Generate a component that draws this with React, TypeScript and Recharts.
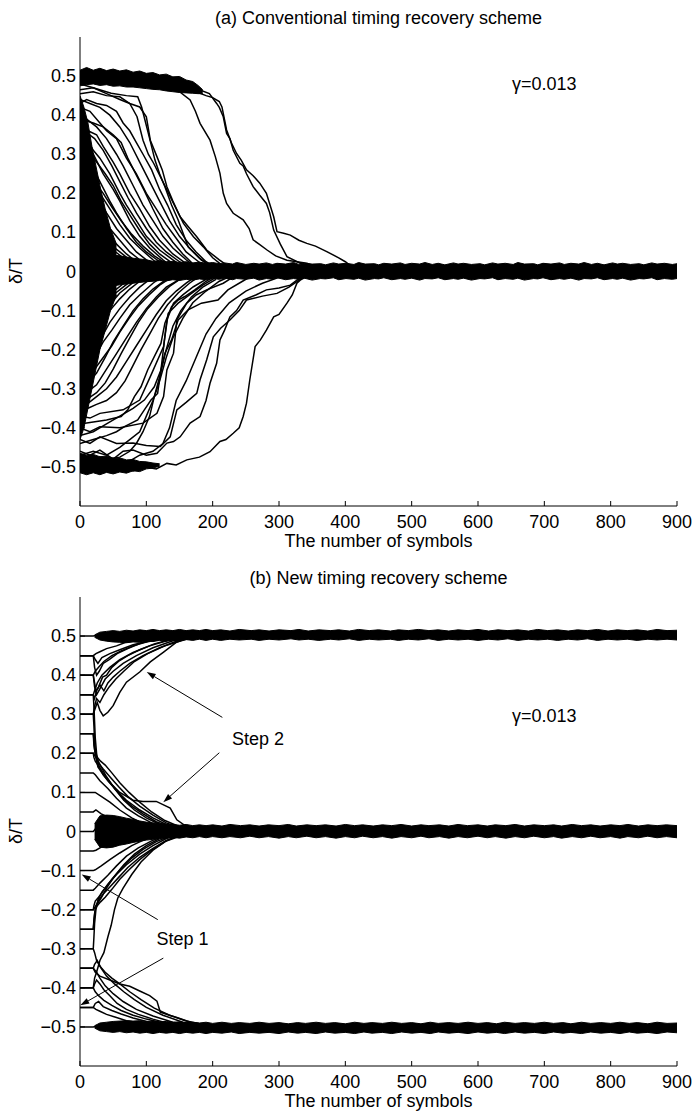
import React from 'react';
import { ComposedChart, Line, Area, XAxis, YAxis, ReferenceLine } from 'recharts';

type Pt = [number, number];
type Band = [number, number, number];

const xTicks = [0, 100, 200, 300, 400, 500, 600, 700, 800, 900];
const yTicks = [-0.5, -0.4, -0.3, -0.2, -0.1, 0, 0.1, 0.2, 0.3, 0.4, 0.5];

// (a) conventional scheme: runs that start above zero
const topUpperRuns: Pt[][] = [
  [[0, 0.5], [15, 0.51], [30, 0.49], [50, 0.505], [70, 0.5], [90, 0.495], [110, 0.49], [130, 0.485], [150, 0.48], [165, 0.47], [180, 0.465], [195, 0.455], [206, 0.43], [210, 0.42], [216, 0.396], [221, 0.353], [226, 0.34], [231, 0.31], [241, 0.277], [246, 0.27], [251, 0.25], [261, 0.217], [271, 0.195], [281, 0.174], [286, 0.15], [292, 0.106], [302, 0.07], [312, 0.038], [332, 0.021], [350, 0.01]],
  [[0, 0.49], [20, 0.5], [40, 0.51], [60, 0.495], [80, 0.5], [100, 0.49], [120, 0.485], [140, 0.475], [160, 0.47], [175, 0.46], [190, 0.45], [200, 0.445], [210, 0.435], [214, 0.421], [221, 0.362], [228, 0.33], [236, 0.302], [243, 0.285], [251, 0.26], [261, 0.245], [271, 0.226], [281, 0.2], [292, 0.14], [297, 0.102], [307, 0.098], [317, 0.093], [330, 0.08], [342, 0.072], [355, 0.065], [372, 0.051], [390, 0.035], [400, 0.025], [410, 0.012]],
  [[0, 0.505], [20, 0.495], [45, 0.5], [70, 0.49], [100, 0.48], [130, 0.47], [150, 0.46], [166, 0.439], [174, 0.41], [181, 0.379], [196, 0.336], [204, 0.294], [211, 0.251], [216, 0.2], [221, 0.174], [231, 0.149], [246, 0.132], [255, 0.11], [261, 0.081], [270, 0.07], [282, 0.055], [295, 0.04], [312, 0.029], [342, 0.021], [360, 0.01]],
  [[0, 0.465], [20, 0.47], [47, 0.456], [70, 0.45], [87, 0.447], [93, 0.42], [98, 0.387], [105, 0.34], [113, 0.285], [120, 0.25], [128, 0.217], [138, 0.17], [148, 0.132], [155, 0.1], [163, 0.063], [183, 0.029], [200, 0.012]],
  [[0, 0.48], [20, 0.47], [40, 0.455], [60, 0.44], [75, 0.43], [90, 0.421], [100, 0.396], [106, 0.336], [116, 0.294], [124, 0.26], [131, 0.217], [140, 0.18], [151, 0.14], [163, 0.115], [176, 0.089], [191, 0.055], [210, 0.03], [225, 0.012]],
  [[0, 0.455], [20, 0.46], [40, 0.45], [60, 0.447], [75, 0.43], [86, 0.396], [95, 0.336], [103, 0.3], [111, 0.277], [126, 0.226], [141, 0.174], [156, 0.123], [171, 0.089], [186, 0.063], [200, 0.035], [215, 0.015]],
  [[0, 0.44], [15, 0.43], [30, 0.42], [45, 0.4], [60, 0.37], [75, 0.33], [90, 0.28], [105, 0.23], [120, 0.18], [135, 0.13], [150, 0.09], [165, 0.06], [180, 0.035], [195, 0.015]],
  [[0, 0.43], [10, 0.44], [25, 0.43], [40, 0.425], [55, 0.41], [65, 0.38], [75, 0.36], [85, 0.33], [95, 0.3], [108, 0.26], [120, 0.21], [132, 0.17], [145, 0.12], [160, 0.08], [175, 0.05], [190, 0.025], [205, 0.01]],
  [[0, 0.42], [15, 0.41], [30, 0.38], [40, 0.36], [55, 0.34], [70, 0.29], [85, 0.25], [100, 0.2], [115, 0.16], [130, 0.12], [145, 0.085], [160, 0.05], [175, 0.03], [190, 0.01]],
  [[0, 0.4], [10, 0.39], [25, 0.37], [40, 0.34], [55, 0.3], [65, 0.27], [80, 0.22], [95, 0.17], [110, 0.13], [125, 0.09], [140, 0.06], [160, 0.03], [175, 0.01]],
  [[0, 0.39], [10, 0.385], [20, 0.38], [35, 0.37], [50, 0.35], [62, 0.33], [72, 0.29], [84, 0.25], [96, 0.21], [110, 0.16], [125, 0.11], [140, 0.075], [155, 0.045], [170, 0.02]],
  [[0, 0.38], [12, 0.36], [25, 0.35], [35, 0.32], [50, 0.28], [60, 0.25], [75, 0.2], [90, 0.16], [105, 0.115], [120, 0.08], [140, 0.045], [160, 0.02]],
  [[0, 0.36], [10, 0.355], [22, 0.34], [35, 0.31], [48, 0.27], [60, 0.23], [72, 0.19], [85, 0.15], [100, 0.11], [115, 0.075], [130, 0.05], [150, 0.025], [165, 0.01]],
  [[0, 0.35], [10, 0.34], [20, 0.31], [30, 0.29], [45, 0.25], [60, 0.2], [70, 0.17], [85, 0.13], [100, 0.09], [120, 0.055], [140, 0.03], [155, 0.012]],
  [[0, 0.33], [10, 0.32], [20, 0.3], [35, 0.25], [50, 0.21], [60, 0.18], [75, 0.13], [90, 0.09], [105, 0.06], [125, 0.03], [140, 0.01]],
  [[0, 0.31], [12, 0.305], [25, 0.28], [38, 0.25], [50, 0.22], [62, 0.18], [75, 0.145], [90, 0.105], [105, 0.07], [120, 0.045], [140, 0.02]],
  [[0, 0.3], [8, 0.29], [18, 0.27], [30, 0.23], [45, 0.18], [55, 0.15], [70, 0.11], [85, 0.075], [100, 0.05], [120, 0.025], [135, 0.01]],
  [[0, 0.28], [10, 0.26], [20, 0.24], [30, 0.2], [45, 0.16], [60, 0.12], [75, 0.085], [90, 0.06], [110, 0.03], [125, 0.01]],
  [[0, 0.26], [10, 0.255], [22, 0.23], [35, 0.2], [48, 0.165], [62, 0.13], [78, 0.095], [95, 0.065], [112, 0.04], [130, 0.02]],
  [[0, 0.25], [10, 0.235], [20, 0.21], [30, 0.18], [40, 0.15], [55, 0.11], [70, 0.08], [85, 0.05], [100, 0.03], [115, 0.012]],
  [[0, 0.22], [10, 0.2], [20, 0.18], [30, 0.15], [45, 0.11], [60, 0.08], [75, 0.05], [90, 0.03], [105, 0.01]],
  [[0, 0.2], [8, 0.19], [18, 0.16], [28, 0.14], [40, 0.1], [55, 0.07], [70, 0.045], [85, 0.025], [100, 0.01]],
  [[0, 0.17], [10, 0.15], [20, 0.13], [30, 0.1], [45, 0.07], [60, 0.05], [75, 0.03], [90, 0.012]],
  [[0, 0.15], [10, 0.13], [20, 0.11], [35, 0.08], [50, 0.055], [65, 0.035], [80, 0.02]],
  [[0, 0.12], [10, 0.11], [20, 0.09], [35, 0.06], [50, 0.04], [65, 0.025], [80, 0.01]],
  [[0, 0.1], [12, 0.085], [25, 0.065], [40, 0.045], [55, 0.03], [70, 0.015]],
  [[0, 0.07], [12, 0.06], [25, 0.045], [40, 0.03], [55, 0.018]],
  [[0, 0.05], [15, 0.04], [30, 0.03], [45, 0.02]],
];

// (a) conventional scheme: runs that start below zero
const topLowerRuns: Pt[][] = [
  [[0, -0.48], [15, -0.5], [30, -0.474], [45, -0.505], [60, -0.499], [80, -0.51], [95, -0.499], [115, -0.505], [131, -0.491], [145, -0.495], [161, -0.482], [180, -0.475], [196, -0.461], [211, -0.435], [220, -0.43], [231, -0.414], [240, -0.4], [246, -0.371], [251, -0.337], [256, -0.277], [264, -0.192], [272, -0.175], [281, -0.15], [292, -0.116], [300, -0.11], [312, -0.081], [320, -0.06], [327, -0.03], [332, -0.022], [345, -0.01]],
  [[0, -0.46], [15, -0.47], [30, -0.457], [50, -0.48], [65, -0.46], [80, -0.457], [100, -0.47], [116, -0.465], [131, -0.439], [141, -0.435], [151, -0.423], [166, -0.388], [181, -0.371], [190, -0.33], [196, -0.286], [206, -0.235], [211, -0.175], [218, -0.15], [226, -0.116], [236, -0.1], [246, -0.073], [265, -0.06], [281, -0.047], [300, -0.042], [317, -0.035], [327, -0.022], [340, -0.01]],
  [[0, -0.43], [15, -0.44], [30, -0.423], [55, -0.44], [80, -0.439], [100, -0.445], [121, -0.448], [136, -0.423], [146, -0.354], [160, -0.335], [176, -0.312], [181, -0.277], [191, -0.226], [201, -0.167], [212, -0.145], [226, -0.124], [240, -0.1], [251, -0.073], [275, -0.063], [297, -0.056], [315, -0.04], [327, -0.026], [340, -0.01]],
  [[0, -0.4], [15, -0.41], [30, -0.397], [60, -0.4], [95, -0.388], [116, -0.363], [126, -0.32], [131, -0.252], [141, -0.209], [146, -0.124], [161, -0.081], [175, -0.06], [191, -0.047], [216, -0.03], [230, -0.015]],
  [[0, -0.37], [15, -0.375], [30, -0.363], [65, -0.354], [90, -0.329], [106, -0.269], [126, -0.192], [131, -0.124], [141, -0.081], [155, -0.06], [171, -0.039], [190, -0.02]],
  [[0, -0.39], [20, -0.385], [40, -0.38], [62, -0.371], [72, -0.354], [82, -0.32], [92, -0.295], [102, -0.252], [112, -0.218], [122, -0.184], [128, -0.132], [138, -0.09], [148, -0.073], [158, -0.064], [173, -0.047], [190, -0.025], [205, -0.01]],
  [[0, -0.42], [20, -0.41], [40, -0.39], [60, -0.37], [80, -0.35], [97, -0.329], [112, -0.295], [122, -0.252], [128, -0.209], [138, -0.175], [148, -0.124], [163, -0.098], [183, -0.081], [208, -0.073], [223, -0.047], [245, -0.025], [260, -0.01]],
  [[0, -0.44], [20, -0.43], [40, -0.42], [55, -0.41], [67, -0.397], [87, -0.38], [97, -0.354], [107, -0.329], [117, -0.312], [122, -0.252], [128, -0.167], [133, -0.107], [148, -0.081], [165, -0.06], [185, -0.035], [205, -0.015]],
  [[0, -0.36], [12, -0.35], [25, -0.34], [40, -0.33], [55, -0.31], [68, -0.28], [80, -0.24], [92, -0.2], [105, -0.16], [118, -0.12], [132, -0.085], [148, -0.055], [165, -0.03], [180, -0.012]],
  [[0, -0.35], [10, -0.34], [25, -0.32], [40, -0.3], [55, -0.27], [70, -0.23], [85, -0.19], [100, -0.15], [115, -0.11], [130, -0.075], [145, -0.05], [160, -0.03], [175, -0.012]],
  [[0, -0.33], [12, -0.325], [25, -0.31], [38, -0.285], [50, -0.25], [62, -0.21], [75, -0.17], [88, -0.13], [102, -0.095], [118, -0.065], [135, -0.038], [152, -0.018]],
  [[0, -0.32], [10, -0.31], [25, -0.29], [40, -0.25], [55, -0.21], [70, -0.17], [85, -0.13], [100, -0.095], [115, -0.065], [130, -0.04], [150, -0.02]],
  [[0, -0.3], [12, -0.285], [25, -0.26], [38, -0.22], [50, -0.18], [65, -0.14], [80, -0.1], [95, -0.07], [110, -0.045], [130, -0.02]],
  [[0, -0.28], [10, -0.27], [22, -0.25], [35, -0.22], [48, -0.19], [60, -0.155], [74, -0.12], [88, -0.088], [104, -0.06], [120, -0.035], [138, -0.015]],
  [[0, -0.27], [10, -0.25], [22, -0.22], [35, -0.18], [48, -0.15], [60, -0.12], [75, -0.085], [90, -0.06], [110, -0.03], [125, -0.012]],
  [[0, -0.25], [10, -0.23], [20, -0.2], [32, -0.17], [45, -0.13], [60, -0.095], [75, -0.065], [90, -0.04], [105, -0.02]],
  [[0, -0.22], [10, -0.2], [20, -0.175], [30, -0.14], [45, -0.1], [60, -0.07], [75, -0.045], [90, -0.025], [105, -0.01]],
  [[0, -0.2], [10, -0.18], [20, -0.15], [30, -0.12], [45, -0.085], [60, -0.055], [75, -0.035], [90, -0.015]],
  [[0, -0.17], [10, -0.15], [20, -0.125], [35, -0.09], [50, -0.06], [65, -0.04], [80, -0.02]],
  [[0, -0.14], [12, -0.12], [25, -0.095], [40, -0.065], [55, -0.045], [70, -0.025], [85, -0.01]],
  [[0, -0.11], [12, -0.09], [25, -0.07], [40, -0.05], [55, -0.03], [70, -0.015]],
  [[0, -0.08], [15, -0.065], [30, -0.045], [45, -0.03], [60, -0.015]],
  [[0, -0.05], [15, -0.04], [30, -0.028], [45, -0.015]],
  [[0, -0.5], [15, -0.49], [30, -0.5], [50, -0.485], [70, -0.49], [90, -0.47], [110, -0.46], [125, -0.44], [135, -0.4], [145, -0.33], [160, -0.28], [175, -0.22], [190, -0.16], [205, -0.12], [225, -0.08], [250, -0.05], [275, -0.03], [300, -0.015]],
  [[0, -0.47], [20, -0.46], [40, -0.47], [60, -0.45], [75, -0.43], [90, -0.41], [100, -0.37], [110, -0.33], [120, -0.28], [130, -0.22], [140, -0.17], [155, -0.12], [170, -0.08], [190, -0.05], [210, -0.025], [230, -0.01]],
  [[0, -0.49], [20, -0.495], [40, -0.48], [60, -0.475], [75, -0.46], [85, -0.44], [95, -0.41], [105, -0.37], [112, -0.32], [120, -0.27], [130, -0.2], [140, -0.14], [152, -0.1], [168, -0.065], [185, -0.04], [205, -0.02]],
];

// dense bundles of the (a) panel: [symbol, low, high]
const topHighBand: Band[] = [
  [0, 0.475, 0.515], [10, 0.478, 0.522], [20, 0.48, 0.515], [30, 0.476, 0.52], [40, 0.478, 0.514], [50, 0.474, 0.518], [60, 0.475, 0.513],
  [70, 0.472, 0.516], [80, 0.472, 0.51], [90, 0.47, 0.513], [100, 0.468, 0.507], [110, 0.466, 0.509], [120, 0.465, 0.503],
  [130, 0.462, 0.505], [140, 0.46, 0.498], [150, 0.458, 0.499], [160, 0.457, 0.49], [170, 0.456, 0.486], [178, 0.455, 0.476], [185, 0.455, 0.465],
];
const topLowBand: Band[] = [
  [0, -0.515, -0.465], [10, -0.52, -0.47], [20, -0.515, -0.468], [30, -0.52, -0.474], [40, -0.514, -0.472], [50, -0.518, -0.478],
  [60, -0.513, -0.477], [70, -0.516, -0.482], [80, -0.51, -0.481], [90, -0.512, -0.486], [100, -0.505, -0.487], [110, -0.503, -0.49], [120, -0.498, -0.492],
];
const topLeftMass: Band[] = [
  [0, -0.43, 0.45], [6, -0.4, 0.42], [12, -0.35, 0.38], [18, -0.3, 0.32], [24, -0.25, 0.27], [30, -0.2, 0.22], [38, -0.15, 0.16], [46, -0.1, 0.11], [55, -0.06, 0.07],
];
const topZeroBand: Band[] = [
  [0, -0.05, 0.06], [10, -0.048, 0.055], [20, -0.045, 0.05], [30, -0.042, 0.048], [40, -0.04, 0.045], [50, -0.037, 0.042], [60, -0.034, 0.04],
  [70, -0.032, 0.037], [80, -0.03, 0.034], [90, -0.028, 0.032], [100, -0.026, 0.03], [110, -0.025, 0.026], [120, -0.023, 0.028], [130, -0.024, 0.025],
  [140, -0.021, 0.026], [150, -0.023, 0.023], [160, -0.02, 0.025], [170, -0.022, 0.022], [180, -0.019, 0.024], [190, -0.021, 0.021],
  [200, -0.018, 0.023], [210, -0.02, 0.02], [218, -0.017, 0.022], [230, -0.021, 0.019], [236, -0.018, 0.023], [250, -0.02, 0.018],
  [262, -0.017, 0.021], [270, -0.022, 0.019], [281, -0.018, 0.022], [290, -0.02, 0.018], [297, -0.016, 0.021], [310, -0.021, 0.019],
  [322, -0.018, 0.023], [330, -0.02, 0.018], [338, -0.017, 0.021], [350, -0.022, 0.019], [363, -0.018, 0.02], [370, -0.019, 0.017],
  [382, -0.016, 0.022], [390, -0.021, 0.019], [401, -0.018, 0.021], [413, -0.02, 0.018], [420, -0.017, 0.023], [430, -0.022, 0.019],
  [444, -0.018, 0.02], [450, -0.019, 0.017], [458, -0.016, 0.021], [470, -0.021, 0.019], [483, -0.018, 0.022], [490, -0.02, 0.018],
  [500, -0.017, 0.021], [512, -0.022, 0.019], [520, -0.018, 0.023], [531, -0.019, 0.018], [540, -0.016, 0.021], [550, -0.021, 0.017],
  [563, -0.018, 0.022], [570, -0.02, 0.019], [578, -0.017, 0.021], [590, -0.022, 0.018], [603, -0.018, 0.02], [610, -0.019, 0.017],
  [622, -0.016, 0.022], [630, -0.021, 0.019], [641, -0.018, 0.021], [653, -0.02, 0.018], [660, -0.017, 0.023], [670, -0.022, 0.019],
  [684, -0.018, 0.02], [690, -0.019, 0.017], [698, -0.016, 0.021], [710, -0.021, 0.019], [723, -0.018, 0.022], [730, -0.02, 0.018],
  [740, -0.017, 0.021], [752, -0.022, 0.019], [760, -0.018, 0.023], [771, -0.019, 0.018], [780, -0.016, 0.021], [790, -0.021, 0.017],
  [803, -0.018, 0.022], [810, -0.02, 0.019], [818, -0.017, 0.021], [830, -0.022, 0.018], [843, -0.018, 0.02], [850, -0.019, 0.017],
  [862, -0.016, 0.022], [870, -0.021, 0.019], [881, -0.018, 0.021], [893, -0.02, 0.018], [900, -0.018, 0.02],
];

// (b) new scheme: runs held for 20 symbols (step 1) then tracked (step 2)
const botUpperRuns: Pt[][] = [
  [[0, 0.5], [20, 0.5], [25, 0.502], [35, 0.498], [50, 0.505]],
  [[0, 0.45], [20, 0.45], [24, 0.455], [30, 0.46], [40, 0.468], [55, 0.475], [70, 0.485], [90, 0.49], [110, 0.497], [130, 0.5]],
  [[0, 0.45], [20, 0.45], [23, 0.44], [27, 0.43], [33, 0.445], [45, 0.455], [60, 0.465], [80, 0.478], [105, 0.488], [140, 0.498]],
  [[0, 0.45], [20, 0.45], [22, 0.42], [25, 0.4], [29, 0.41], [35, 0.43], [44, 0.44], [56, 0.455], [72, 0.468], [92, 0.482], [118, 0.493], [150, 0.5]],
  [[0, 0.4], [20, 0.4], [23, 0.41], [28, 0.42], [36, 0.435], [48, 0.45], [62, 0.462], [80, 0.475], [100, 0.485], [125, 0.493], [155, 0.5]],
  [[0, 0.4], [20, 0.4], [22, 0.37], [25, 0.35], [30, 0.365], [38, 0.39], [50, 0.41], [65, 0.43], [85, 0.45], [110, 0.47], [140, 0.488], [175, 0.5]],
  [[0, 0.4], [20, 0.4], [22, 0.38], [24, 0.36], [28, 0.37], [34, 0.395], [40, 0.4], [48, 0.42], [58, 0.435], [72, 0.45], [90, 0.465], [112, 0.48], [140, 0.493], [170, 0.5]],
  [[0, 0.35], [20, 0.35], [22, 0.36], [26, 0.38], [33, 0.4], [45, 0.42], [60, 0.44], [80, 0.458], [105, 0.475], [135, 0.49], [170, 0.5]],
  [[0, 0.35], [20, 0.35], [22, 0.34], [25, 0.36], [30, 0.375], [36, 0.36], [42, 0.38], [50, 0.395], [60, 0.41], [75, 0.43], [95, 0.45], [120, 0.47], [150, 0.49], [185, 0.5]],
  [[0, 0.35], [20, 0.35], [21, 0.32], [22, 0.28], [23, 0.24], [25, 0.2], [28, 0.17], [35, 0.145], [45, 0.125], [60, 0.1], [80, 0.08], [95, 0.077], [115, 0.077], [136, 0.06], [146, 0.03], [161, 0.012], [175, 0.005]],
  [[0, 0.3], [20, 0.3], [22, 0.31], [26, 0.33], [30, 0.31], [35, 0.296], [42, 0.305], [50, 0.322], [60, 0.356], [70, 0.382], [90, 0.408], [106, 0.434], [126, 0.459], [146, 0.485], [171, 0.5]],
  [[0, 0.3], [20, 0.3], [22, 0.32], [25, 0.34], [30, 0.33], [36, 0.35], [44, 0.37], [54, 0.39], [66, 0.41], [82, 0.435], [102, 0.455], [128, 0.475], [160, 0.492], [195, 0.5]],
  [[0, 0.3], [20, 0.3], [21, 0.27], [22, 0.23], [24, 0.19], [27, 0.165], [33, 0.15], [42, 0.13], [55, 0.105], [70, 0.08], [90, 0.055], [110, 0.035], [130, 0.018], [150, 0.008]],
  [[0, 0.25], [20, 0.25], [21, 0.235], [22, 0.21], [24, 0.19], [28, 0.175], [35, 0.16], [45, 0.14], [58, 0.115], [72, 0.09], [90, 0.065], [110, 0.042], [130, 0.022], [150, 0.01]],
  [[0, 0.25], [20, 0.25], [21, 0.22], [23, 0.2], [26, 0.19], [31, 0.18], [38, 0.17], [48, 0.15], [60, 0.125], [74, 0.1], [90, 0.075], [108, 0.05], [128, 0.028], [150, 0.012]],
  [[0, 0.2], [20, 0.2], [21, 0.19], [23, 0.18], [27, 0.17], [35, 0.15], [48, 0.12], [62, 0.09], [78, 0.065], [95, 0.045], [115, 0.025], [135, 0.012]],
  [[0, 0.2], [20, 0.2], [22, 0.195], [26, 0.185], [32, 0.165], [40, 0.14], [52, 0.11], [66, 0.08], [82, 0.055], [100, 0.035], [120, 0.018]],
  [[0, 0.15], [20, 0.15], [23, 0.145], [30, 0.13], [42, 0.11], [55, 0.085], [70, 0.06], [88, 0.04], [108, 0.022], [128, 0.01]],
  [[0, 0.1], [20, 0.1], [23, 0.1], [32, 0.09], [45, 0.075], [60, 0.055], [78, 0.035], [98, 0.018], [115, 0.008]],
  [[0, 0.05], [20, 0.05], [24, 0.055], [32, 0.045], [45, 0.035], [60, 0.025], [80, 0.012]],
  [[0, 0], [20, 0], [25, 0.01]],
];

const botLowerRuns: Pt[][] = [
  [[0, -0.05], [20, -0.05], [24, -0.048], [32, -0.04], [45, -0.03], [60, -0.02], [80, -0.01]],
  [[0, -0.1], [20, -0.1], [23, -0.098], [32, -0.088], [45, -0.072], [60, -0.055], [78, -0.036], [98, -0.02], [115, -0.008]],
  [[0, -0.15], [20, -0.15], [23, -0.145], [30, -0.132], [42, -0.112], [55, -0.088], [70, -0.063], [88, -0.042], [108, -0.024], [128, -0.01]],
  [[0, -0.2], [20, -0.2], [21, -0.19], [23, -0.178], [28, -0.168], [36, -0.15], [48, -0.122], [62, -0.094], [78, -0.068], [95, -0.046], [115, -0.026], [135, -0.012]],
  [[0, -0.2], [20, -0.2], [22, -0.195], [26, -0.186], [32, -0.17], [40, -0.145], [52, -0.115], [66, -0.085], [82, -0.058], [100, -0.036], [120, -0.018]],
  [[0, -0.25], [20, -0.25], [21, -0.232], [22, -0.21], [24, -0.19], [28, -0.176], [35, -0.16], [45, -0.142], [58, -0.118], [72, -0.092], [90, -0.066], [110, -0.043], [130, -0.023], [150, -0.01]],
  [[0, -0.25], [20, -0.25], [21, -0.225], [23, -0.2], [26, -0.19], [31, -0.18], [38, -0.168], [48, -0.148], [60, -0.122], [74, -0.098], [90, -0.072], [108, -0.048], [128, -0.026], [150, -0.012]],
  [[0, -0.3], [20, -0.3], [21, -0.27], [22, -0.235], [24, -0.2], [27, -0.175], [33, -0.155], [42, -0.135], [55, -0.11], [70, -0.085], [90, -0.058], [110, -0.036], [130, -0.018], [150, -0.008]],
  [[0, -0.3], [20, -0.3], [22, -0.31], [25, -0.33], [30, -0.345], [38, -0.36], [48, -0.375], [60, -0.39], [75, -0.41], [92, -0.43], [112, -0.452], [135, -0.47], [160, -0.485], [190, -0.495]],
  [[0, -0.35], [20, -0.35], [25, -0.36], [30, -0.33], [36, -0.31], [42, -0.27], [47, -0.24], [52, -0.2], [57, -0.17], [65, -0.145], [78, -0.11], [92, -0.078], [110, -0.048], [130, -0.024], [150, -0.01]],
  [[0, -0.35], [20, -0.35], [23, -0.36], [30, -0.37], [45, -0.38], [60, -0.39], [75, -0.396], [90, -0.408], [105, -0.42], [116, -0.434], [121, -0.462], [135, -0.47], [146, -0.476], [170, -0.49], [200, -0.498]],
  [[0, -0.35], [20, -0.35], [22, -0.34], [26, -0.33], [32, -0.35], [40, -0.37], [52, -0.39], [66, -0.41], [82, -0.43], [100, -0.45], [125, -0.47], [155, -0.488], [185, -0.498]],
  [[0, -0.4], [20, -0.4], [23, -0.41], [28, -0.42], [36, -0.432], [48, -0.445], [62, -0.458], [80, -0.47], [100, -0.48], [125, -0.49], [155, -0.498]],
  [[0, -0.4], [20, -0.4], [22, -0.375], [25, -0.36], [30, -0.375], [38, -0.395], [50, -0.415], [65, -0.435], [85, -0.455], [110, -0.472], [140, -0.488], [175, -0.498]],
  [[0, -0.4], [20, -0.4], [22, -0.39], [25, -0.38], [30, -0.39], [36, -0.405], [45, -0.42], [56, -0.44], [70, -0.455], [88, -0.468], [110, -0.48], [135, -0.492], [165, -0.5]],
  [[0, -0.45], [20, -0.45], [24, -0.455], [30, -0.46], [40, -0.468], [55, -0.476], [70, -0.484], [90, -0.49], [110, -0.495], [130, -0.5]],
  [[0, -0.45], [20, -0.45], [23, -0.44], [28, -0.435], [35, -0.448], [48, -0.458], [62, -0.467], [80, -0.477], [105, -0.488], [140, -0.497]],
  [[0, -0.5], [20, -0.5], [25, -0.498], [35, -0.503], [50, -0.497]],
];

const botHighBand: Band[] = [
  [22, 0.497, 0.503], [30, 0.49, 0.51], [40, 0.487, 0.512], [50, 0.485, 0.514], [60, 0.484, 0.512], [70, 0.483, 0.515], [80, 0.485, 0.513],
  [90, 0.484, 0.516], [100, 0.487, 0.514], [110, 0.486, 0.517], [120, 0.489, 0.514], [130, 0.487, 0.516], [140, 0.49, 0.514],
  [150, 0.488, 0.517], [160, 0.491, 0.514], [170, 0.489, 0.516], [180, 0.492, 0.514], [190, 0.489, 0.517], [200, 0.492, 0.514],
  [212, 0.489, 0.516], [226, 0.492, 0.513], [240, 0.49, 0.517], [258, 0.492, 0.514], [270, 0.489, 0.516], [285, 0.492, 0.513],
  [300, 0.49, 0.516], [318, 0.493, 0.514], [330, 0.49, 0.517], [344, 0.492, 0.513], [360, 0.489, 0.516], [378, 0.492, 0.514],
  [390, 0.49, 0.516], [406, 0.493, 0.513], [420, 0.489, 0.517], [436, 0.492, 0.514], [450, 0.49, 0.516], [468, 0.492, 0.513],
  [480, 0.489, 0.516], [495, 0.492, 0.514], [510, 0.49, 0.517], [526, 0.493, 0.514], [540, 0.489, 0.516], [556, 0.492, 0.513],
  [570, 0.49, 0.516], [585, 0.492, 0.514], [600, 0.489, 0.517], [616, 0.492, 0.513], [630, 0.49, 0.516], [645, 0.493, 0.514],
  [660, 0.489, 0.516], [676, 0.492, 0.513], [690, 0.49, 0.517], [705, 0.492, 0.514], [720, 0.489, 0.516], [736, 0.492, 0.513],
  [750, 0.49, 0.516], [765, 0.493, 0.514], [780, 0.489, 0.517], [796, 0.492, 0.513], [810, 0.49, 0.516], [825, 0.492, 0.514],
  [840, 0.489, 0.516], [856, 0.492, 0.513], [870, 0.49, 0.517], [885, 0.492, 0.514], [900, 0.49, 0.515],
];
const botZeroBand: Band[] = [
  [22, -0.02, 0.02], [30, -0.04, 0.04], [40, -0.042, 0.042], [50, -0.04, 0.041], [60, -0.035, 0.038], [70, -0.032, 0.034],
  [80, -0.028, 0.031], [90, -0.025, 0.027], [100, -0.022, 0.024], [110, -0.02, 0.022], [120, -0.018, 0.02], [130, -0.017, 0.019],
  [140, -0.015, 0.018], [150, -0.017, 0.016], [160, -0.014, 0.018], [170, -0.016, 0.015], [180, -0.013, 0.017], [190, -0.016, 0.015],
  [200, -0.013, 0.017], [214, -0.016, 0.014], [226, -0.013, 0.018], [242, -0.016, 0.015], [256, -0.012, 0.017], [270, -0.016, 0.014],
  [284, -0.013, 0.017], [300, -0.017, 0.015], [314, -0.013, 0.018], [326, -0.016, 0.014], [342, -0.012, 0.017], [356, -0.016, 0.015],
  [370, -0.013, 0.017], [386, -0.017, 0.014], [400, -0.013, 0.018], [414, -0.016, 0.015], [426, -0.012, 0.017], [442, -0.016, 0.014],
  [456, -0.013, 0.017], [470, -0.017, 0.015], [484, -0.013, 0.018], [500, -0.016, 0.014], [514, -0.012, 0.017], [526, -0.016, 0.015],
  [542, -0.013, 0.017], [556, -0.017, 0.014], [570, -0.013, 0.018], [584, -0.016, 0.015], [600, -0.012, 0.017], [614, -0.016, 0.014],
  [626, -0.013, 0.017], [642, -0.017, 0.015], [656, -0.013, 0.018], [670, -0.016, 0.014], [684, -0.012, 0.017], [700, -0.016, 0.015],
  [714, -0.013, 0.017], [726, -0.017, 0.014], [742, -0.013, 0.018], [756, -0.016, 0.015], [770, -0.012, 0.017], [784, -0.016, 0.014],
  [800, -0.013, 0.017], [814, -0.017, 0.015], [826, -0.013, 0.018], [842, -0.016, 0.014], [856, -0.012, 0.017], [870, -0.016, 0.015],
  [884, -0.013, 0.017], [900, -0.016, 0.015],
];
const botLowBand: Band[] = [
  [22, -0.503, -0.497], [30, -0.51, -0.49], [40, -0.512, -0.488], [50, -0.514, -0.486], [60, -0.512, -0.485], [70, -0.515, -0.484],
  [80, -0.513, -0.485], [90, -0.516, -0.484], [100, -0.514, -0.486], [110, -0.517, -0.485], [120, -0.514, -0.487], [130, -0.516, -0.486],
  [140, -0.514, -0.488], [150, -0.517, -0.487], [160, -0.514, -0.489], [170, -0.516, -0.488], [180, -0.514, -0.49], [190, -0.517, -0.488],
  [200, -0.514, -0.491], [214, -0.516, -0.488], [228, -0.513, -0.491], [240, -0.517, -0.489], [256, -0.514, -0.491], [270, -0.516, -0.488],
  [285, -0.514, -0.491], [300, -0.517, -0.489], [314, -0.513, -0.492], [328, -0.516, -0.489], [340, -0.514, -0.491], [356, -0.517, -0.488],
  [370, -0.513, -0.491], [384, -0.516, -0.489], [400, -0.514, -0.492], [414, -0.517, -0.488], [428, -0.513, -0.491], [440, -0.516, -0.489],
  [456, -0.514, -0.491], [470, -0.517, -0.488], [485, -0.513, -0.491], [500, -0.516, -0.489], [514, -0.514, -0.492], [528, -0.517, -0.488],
  [540, -0.513, -0.491], [556, -0.516, -0.489], [570, -0.514, -0.491], [585, -0.517, -0.488], [600, -0.513, -0.491], [614, -0.516, -0.489],
  [628, -0.514, -0.492], [640, -0.517, -0.488], [656, -0.513, -0.491], [670, -0.516, -0.489], [685, -0.514, -0.491], [700, -0.517, -0.488],
  [714, -0.513, -0.491], [728, -0.516, -0.489], [740, -0.514, -0.492], [756, -0.517, -0.488], [770, -0.513, -0.491], [785, -0.516, -0.489],
  [800, -0.514, -0.491], [814, -0.517, -0.488], [828, -0.513, -0.491], [840, -0.516, -0.489], [856, -0.514, -0.492], [870, -0.517, -0.488],
  [885, -0.513, -0.491], [900, -0.515, -0.49],
];

// annotation arrows of panel (b), in data units: from -> to (head)
const step2Arrows: [Pt, Pt][] = [
  [[214.6, 0.292], [100.6, 0.408]],
  [[210, 0.2015], [125.6, 0.075]],
];
const step1Arrows: [Pt, Pt][] = [
  [[117.2, -0.2255], [2.6, -0.11]],
  [[125.6, -0.324], [0.5, -0.4446]],
];

const FONT = '"Liberation Sans", Arial, Helvetica, sans-serif';
const W = 692;
const H = 560;
const PLOT_BOTTOM = 506;

const fmtY = (v: number) => (v === 0 ? '0' : (v < 0 ? '\u2212' : '') + Math.abs(v).toFixed(1));

const XTick = (p: any) => (
  <text x={p.x} y={PLOT_BOTTOM + 22} textAnchor="middle" fontSize={18} fontFamily={FONT} fill="#000">
    {p.payload.value}
  </text>
);

const YTick = (p: any) => (
  <text x={76} y={p.y + 6} textAnchor="end" fontSize={18} fontFamily={FONT} fill="#000">
    {fmtY(p.payload.value)}
  </text>
);

const Arrow = (p: any) => {
  const { x1, y1, x2, y2 } = p;
  const a = Math.atan2(y2 - y1, x2 - x1);
  const L = 9;
  const Wd = 3;
  const bx = x2 - L * Math.cos(a);
  const by = y2 - L * Math.sin(a);
  const nx = -Math.sin(a) * Wd;
  const ny = Math.cos(a) * Wd;
  return (
    <g>
      <line x1={x1} y1={y1} x2={bx} y2={by} stroke="#000" strokeWidth={1} />
      <polygon points={`${x2},${y2} ${bx + nx},${by + ny} ${bx - nx},${by - ny}`} fill="#000" />
    </g>
  );
};

const toPts = (run: Pt[]) => run.map(([x, y]) => ({ x, y }));
const toBand = (band: Band[]) => band.map(([x, lo, hi]) => ({ x, r: [lo, hi] }));

interface PanelProps {
  runs: Pt[][];
  bands: Band[][];
  arrows: [Pt, Pt][];
}

const Panel: React.FC<PanelProps> = ({ runs, bands, arrows }) => (
  <ComposedChart width={W} height={H} margin={{ top: 37, right: 15, bottom: 0, left: 0 }}>
    <XAxis
      dataKey="x"
      type="number"
      domain={[0, 900]}
      ticks={xTicks}
      allowDataOverflow
      height={54}
      tickSize={-5}
      tickMargin={0}
      axisLine={{ stroke: '#000' }}
      tickLine={{ stroke: '#000' }}
      tick={XTick}
      interval={0}
    />
    <XAxis
      xAxisId="top"
      orientation="top"
      type="number"
      domain={[0, 900]}
      ticks={xTicks}
      allowDataOverflow
      height={0}
      tickSize={-5}
      axisLine={{ stroke: '#000' }}
      tickLine={{ stroke: '#000' }}
      tick={false}
    />
    <YAxis
      type="number"
      domain={[-0.6, 0.6]}
      ticks={yTicks}
      allowDataOverflow
      width={80}
      tickSize={-5}
      tickMargin={0}
      axisLine={{ stroke: '#000' }}
      tickLine={{ stroke: '#000' }}
      tick={YTick}
      interval={0}
    />
    <YAxis
      yAxisId="right"
      orientation="right"
      type="number"
      domain={[-0.6, 0.6]}
      ticks={yTicks}
      allowDataOverflow
      width={0}
      tickSize={-5}
      axisLine={{ stroke: '#000' }}
      tickLine={{ stroke: '#000' }}
      tick={false}
    />
    {bands.map((b, i) => (
      <Area
        key={`b${i}`}
        data={toBand(b)}
        dataKey="r"
        type="linear"
        stroke="#000"
        strokeWidth={1}
        fill="#000"
        fillOpacity={1}
        dot={false}
        activeDot={false}
        isAnimationActive={false}
      />
    ))}
    {runs.map((r, i) => (
      <Line
        key={`r${i}`}
        data={toPts(r)}
        dataKey="y"
        type="linear"
        stroke="#000"
        strokeWidth={1.5}
        dot={false}
        activeDot={false}
        isAnimationActive={false}
      />
    ))}
    {arrows.map(([from, to], i) => (
      <ReferenceLine
        key={`a${i}`}
        segment={[{ x: from[0], y: from[1] }, { x: to[0], y: to[1] }]}
        ifOverflow="visible"
        shape={Arrow}
      />
    ))}
  </ComposedChart>
);

const txt = { fontSize: 18, fontFamily: FONT, fill: '#000' };

export default function App() {
  return (
    <div style={{ position: 'absolute', left: 0, top: 0, width: W, height: 1112, background: '#fff' }}>
      <div style={{ position: 'absolute', left: 0, top: 0 }}>
        <Panel
          runs={[...topUpperRuns, ...topLowerRuns]}
          bands={[topHighBand, topLowBand, topLeftMass, topZeroBand]}
          arrows={[]}
        />
      </div>
      <div style={{ position: 'absolute', left: 0, top: H }}>
        <Panel
          runs={[...botUpperRuns, ...botLowerRuns]}
          bands={[botHighBand, botZeroBand, botLowBand]}
          arrows={[...step2Arrows, ...step1Arrows]}
        />
      </div>
      <svg width={W} height={1112} style={{ position: 'absolute', left: 0, top: 0, pointerEvents: 'none' }}>
        <text x={378.5} y={24} textAnchor="middle" {...txt}>(a) Conventional timing recovery scheme</text>
        <text x={378.5} y={547} textAnchor="middle" {...txt}>The number of symbols</text>
        <text x={0} y={0} textAnchor="middle" transform="translate(22,271) rotate(-90)" {...txt}>δ/T</text>
        <text x={512} y={90} {...txt}>γ=0.013</text>
        <text x={378.5} y={584} textAnchor="middle" {...txt}>(b) New timing recovery scheme</text>
        <text x={378.5} y={1107} textAnchor="middle" {...txt}>The number of symbols</text>
        <text x={0} y={0} textAnchor="middle" transform="translate(22,831) rotate(-90)" {...txt}>δ/T</text>
        <text x={512} y={722} {...txt}>γ=0.013</text>
        <text x={258} y={745} textAnchor="middle" {...txt}>Step 2</text>
        <text x={182.5} y={945} textAnchor="middle" {...txt}>Step 1</text>
      </svg>
    </div>
  );
}
